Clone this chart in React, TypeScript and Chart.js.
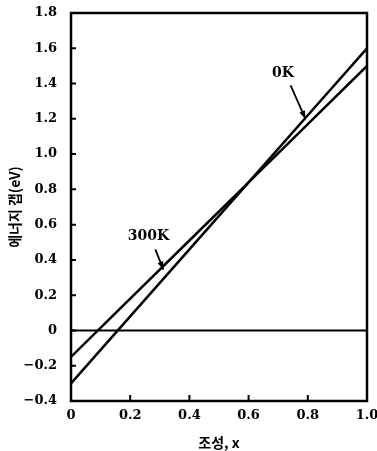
import React, { useEffect, useRef } from "react";
import { Chart, registerables } from "chart.js";

Chart.register(...registerables);

// Composition x
const compositionX = [0, 0.2, 0.4, 0.6, 0.8, 1.0];
// Energy gap (eV) at 0 K
const gap0K = [-0.3, 0.08, 0.46, 0.84, 1.22, 1.6];
// Energy gap (eV) at 300 K
const gap300K = [-0.15, 0.18, 0.51, 0.84, 1.17, 1.5];
// Zero reference line
const zeroX = [0, 1.0];
const zeroY = [0, 0];

const xTicks = [0, 0.2, 0.4, 0.6, 0.8, 1.0];
const yTicks = [-0.4, -0.2, 0, 0.2, 0.4, 0.6, 0.8, 1.0, 1.2, 1.4, 1.6, 1.8];

const xTitle = "조성, x";
const yTitle = "에너지 갭(eV)";

// Curve labels with arrows (data units)
const curveLabelText = ["0K", "300K"];
const curveLabelPos = [
  [0.716, 1.46],
  [0.262, 0.535],
];
const curveArrowFrom = [
  [0.742, 1.39],
  [0.285, 0.46],
];
const curveArrowTo = [
  [0.792, 1.2],
  [0.312, 0.345],
];

const tickFont = '"DejaVu Serif", "Liberation Serif", serif';
const cjkFont = '"Noto Sans CJK KR", "Noto Sans", sans-serif';

function fmt(v: number): string {
  const r = Math.round(v * 10) / 10;
  if (r === 0) return "0";
  const s = Math.abs(r).toFixed(1);
  return r < 0 ? "\u2212" + s : s;
}

const framePlugin = {
  id: "framePlugin",
  afterDatasetsDraw(chart: any) {
    const { ctx, chartArea, scales } = chart;
    const { left, right, top, bottom } = chartArea;
    const xs = scales.x;
    const ys = scales.y;
    ctx.save();
    ctx.strokeStyle = "#000";
    ctx.lineWidth = 2.5;
    ctx.beginPath();
    ctx.rect(left, top, right - left, bottom - top);
    ctx.stroke();
    // inward ticks
    ctx.lineWidth = 2;
    ctx.beginPath();
    yTicks.forEach((v) => {
      const py = ys.getPixelForValue(v);
      ctx.moveTo(left, py);
      ctx.lineTo(left + 5, py);
    });
    xTicks.forEach((v) => {
      const px = xs.getPixelForValue(v);
      ctx.moveTo(px, bottom);
      ctx.lineTo(px, bottom - 6);
    });
    ctx.stroke();

    // curve labels + arrows
    ctx.fillStyle = "#000";
    ctx.font = 'bold 14px ' + tickFont;
    ctx.textAlign = "center";
    ctx.textBaseline = "middle";
    curveLabelText.forEach((t, i) => {
      const lx = xs.getPixelForValue(curveLabelPos[i][0]);
      const ly = ys.getPixelForValue(curveLabelPos[i][1]);
      ctx.fillText(t, lx, ly);
      const fx = xs.getPixelForValue(curveArrowFrom[i][0]);
      const fy = ys.getPixelForValue(curveArrowFrom[i][1]);
      const tx = xs.getPixelForValue(curveArrowTo[i][0]);
      const ty = ys.getPixelForValue(curveArrowTo[i][1]);
      ctx.lineWidth = 1.8;
      ctx.beginPath();
      ctx.moveTo(fx, fy);
      ctx.lineTo(tx, ty);
      ctx.stroke();
      const ang = Math.atan2(ty - fy, tx - fx);
      const hl = 8;
      const hw = 3;
      ctx.beginPath();
      ctx.moveTo(tx, ty);
      ctx.lineTo(
        tx - hl * Math.cos(ang) + hw * Math.sin(ang),
        ty - hl * Math.sin(ang) - hw * Math.cos(ang)
      );
      ctx.lineTo(
        tx - hl * Math.cos(ang) - hw * Math.sin(ang),
        ty - hl * Math.sin(ang) + hw * Math.cos(ang)
      );
      ctx.closePath();
      ctx.fill();
    });
    ctx.restore();
  },
};

export default function App() {
  const ref = useRef<HTMLCanvasElement | null>(null);
  useEffect(() => {
    document.body.style.margin = "0";
    if (!ref.current) return;
    const chart = new Chart(ref.current, {
      type: "scatter",
      data: {
        datasets: [
          {
            label: "0K",
            data: compositionX.map((x, i) => ({ x, y: gap0K[i] })),
            showLine: true,
            borderColor: "#000",
            borderWidth: 2.5,
            pointRadius: 0,
            tension: 0,
          },
          {
            label: "300K",
            data: compositionX.map((x, i) => ({ x, y: gap300K[i] })),
            showLine: true,
            borderColor: "#000",
            borderWidth: 2.5,
            pointRadius: 0,
            tension: 0,
          },
          {
            label: "zero",
            data: zeroX.map((x, i) => ({ x, y: zeroY[i] })),
            showLine: true,
            borderColor: "#000",
            borderWidth: 2,
            pointRadius: 0,
          },
        ],
      },
      options: {
        animation: false,
        responsive: true,
        maintainAspectRatio: false,
        layout: { padding: { left: 0, right: 10, top: 13, bottom: 0 } },
        plugins: {
          legend: { display: false },
          tooltip: { enabled: false },
        },
        scales: {
          x: {
            type: "linear",
            min: 0,
            max: 1.0,
            grid: { display: false },
            border: { display: false },
            afterBuildTicks: (s: any) => {
              s.ticks = xTicks.map((v) => ({ value: v }));
            },
            afterFit: (s: any) => {
              s.height = 50;
              s.paddingLeft = 0;
              s.paddingRight = 0;
            },
            ticks: {
              color: "#000",
              font: { family: tickFont, size: 13, weight: "bold" },
              padding: -1,
              maxRotation: 0,
              autoSkip: false,
              callback: (v: any) => fmt(Number(v)),
            },
            title: {
              display: true,
              text: xTitle,
              color: "#000",
              font: { family: cjkFont, size: 14, weight: "bold" },
              padding: { top: 8, bottom: 0 },
            },
          },
          y: {
            type: "linear",
            min: -0.4,
            max: 1.8,
            grid: { display: false },
            border: { display: false },
            afterBuildTicks: (s: any) => {
              s.ticks = yTicks.map((v) => ({ value: v }));
            },
            afterFit: (s: any) => {
              s.width = 71;
              s.paddingTop = 0;
              s.paddingBottom = 0;
            },
            ticks: {
              color: "#000",
              font: { family: tickFont, size: 13, weight: "bold" },
              padding: 6,
              autoSkip: false,
              callback: (v: any) => fmt(Number(v)),
            },
            title: {
              display: true,
              text: yTitle,
              color: "#000",
              font: { family: cjkFont, size: 14, weight: "bold" },
              padding: { top: 6, bottom: 0 },
            },
          },
        },
      },
      plugins: [framePlugin],
    } as any);
    return () => chart.destroy();
  }, []);
  return (
    <div style={{ position: "relative", width: 377, height: 451, background: "#fff" }}>
      <canvas ref={ref} />
    </div>
  );
}
